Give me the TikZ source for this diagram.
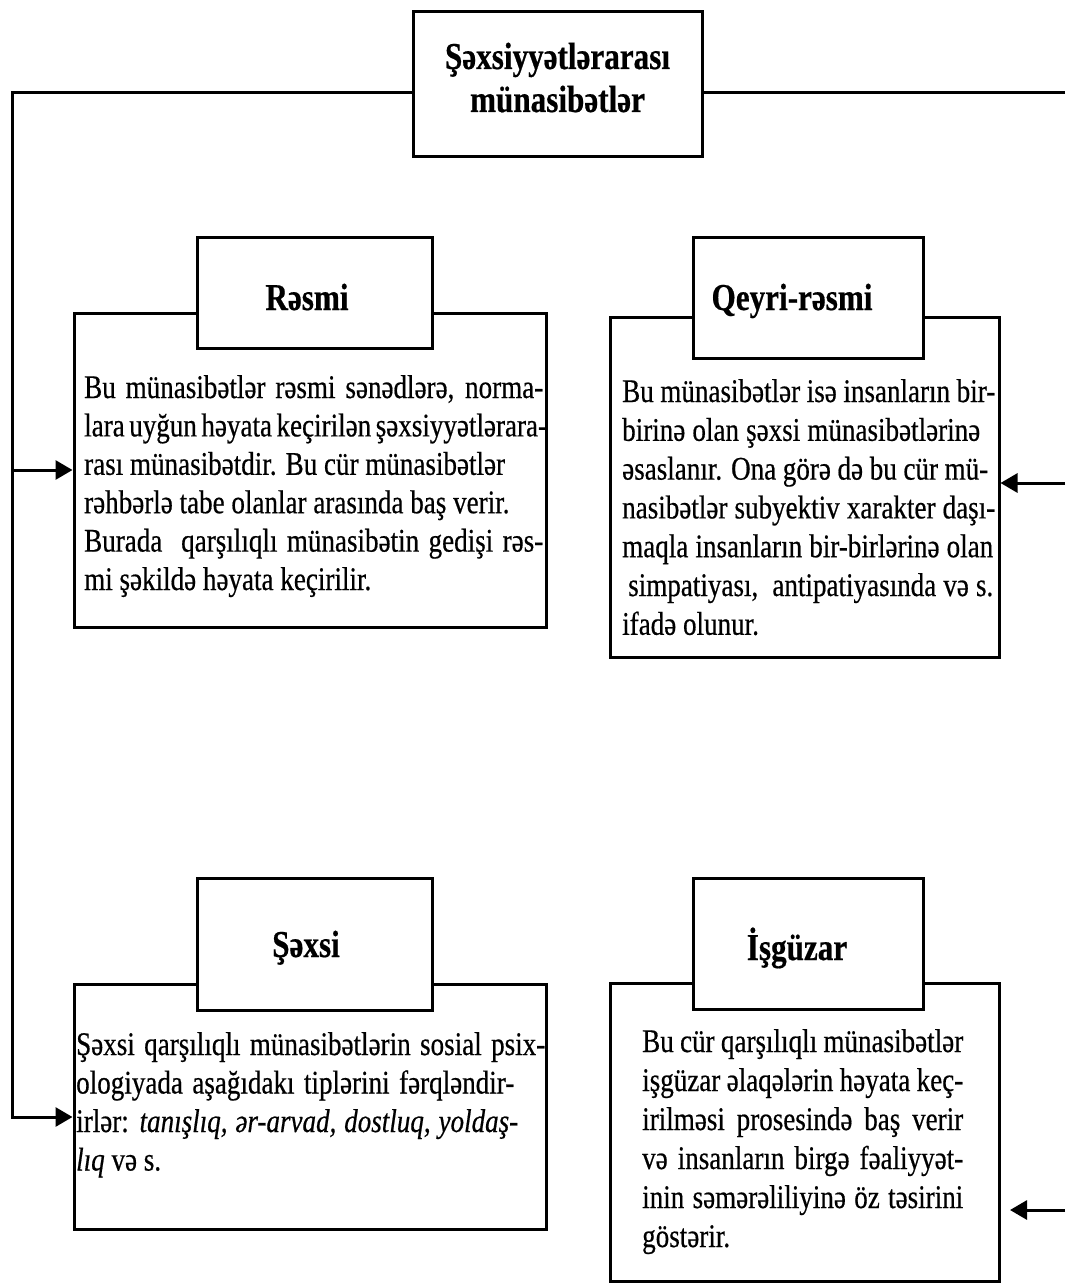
\documentclass[tikz,border=0pt]{standalone}
\usepackage{fontspec}
\setmainfont{Liberation Serif}[FakeStretch=0.82, FakeBold=0.5]
\usetikzlibrary{arrows.meta}
\newcommand\jline[2]{\makebox[#1pt][s]{#2}}
\newcommand\tblock[2]{\vtop{\baselineskip=#1pt\lineskiplimit=-30pt\lineskip=0pt\halign{##\hfil\cr#2\crcr}}}
\tikzset{
  conn/.style={line width=3pt, line join=miter},
  arr/.style={conn, -{Triangle[length=17pt,width=19pt]}},
  boxshape/.style={draw, line width=3pt, rectangle, inner sep=0pt},
  headbox/.style={boxshape, fill=white},
  bodytxt/.style={inner sep=0pt, anchor=base west, font=\fontsize{33}{38}\selectfont},
  headtxt/.style={inner sep=0pt, anchor=base, font=\fontsize{38}{43}\selectfont\bfseries},
}
\begin{document}
\begin{tikzpicture}[x=1pt, y=-1pt]
\useasboundingbox (0,0) rectangle (1065,1284);

% boxes
\node[boxshape, minimum width=289pt, minimum height=145pt] (top) at (557.5,84.5) {};
\node[boxshape, minimum width=472pt, minimum height=314pt] (resmiBody) at (310,470) {};
\node[boxshape, minimum width=389pt, minimum height=340pt] (qrBody) at (804.5,487) {};
\node[boxshape, minimum width=472pt, minimum height=245pt] (sxBody) at (310,1106.5) {};
\node[boxshape, minimum width=389pt, minimum height=298pt] (igBody) at (804.5,1132) {};
\node[headbox, minimum width=235pt, minimum height=111pt] (resmiHead) at (314.5,292.5) {};
\node[headbox, minimum width=230pt, minimum height=121pt] (qrHead) at (808,297.5) {};
\node[headbox, minimum width=235pt, minimum height=132pt] (sxHead) at (314.5,944) {};
\node[headbox, minimum width=230pt, minimum height=131pt] (igHead) at (808,943.5) {};

% connectors
\coordinate (lt) at (12,93);
\coordinate (lm) at (12,470);
\coordinate (lb) at (12,1117);
\coordinate (rt) at (1065,93);
\coordinate (rm) at (1065,483);
\coordinate (rb) at (1065,1210);
\coordinate (rbt) at (1010,1210);
\draw[arr] (top.west |- lt) -- (lt) -- (lb) -- (sxBody.west |- lb);
\draw[arr] (lm) -- (resmiBody.west |- lm);
\draw[conn] (top.east |- rt) -- (rt);
\draw[arr] (rm) -- (qrBody.east |- rm);
\draw[arr] (rb) -- (rbt);

% titles
\node[headtxt] (t1) at (557.5,69) {Şəxsiyyətlərarası};
\node[headtxt] (t2) at (557.5,112) {münasibətlər};
\node[headtxt] (h1) at (307,310) {Rəsmi};
\node[headtxt] (h2) at (792,310) {Qeyri-rəsmi};
\node[headtxt] (h3) at (306,957) {Şəxsi};
\node[headtxt] (h4) at (797,960) {İşgüzar};

% body texts
\node[bodytxt] (b1) at (84,398) {\tblock{38.4}{%
\jline{459}{Bu münasibətlər rəsmi sənədlərə, norma-}\cr
\jline{459}{lara uyğun həyata keçirilən şəxsiyyətlərara-}\cr
rası münasibətdir. Bu cür münasibətlər\cr
rəhbərlə tabe olanlar arasında baş verir.\cr
\jline{459}{Burada\ \ qarşılıqlı münasibətin gedişi rəs-}\cr
mi şəkildə həyata keçirilir.}};

\node[bodytxt] (b2) at (622,402) {\tblock{38.8}{%
\jline{373}{Bu münasibətlər isə insanların bir-}\cr
\jline{358}{birinə olan şəxsi münasibətlərinə}\cr
\jline{366}{əsaslanır. Ona görə də bu cür mü-}\cr
\jline{373}{nasibətlər subyektiv xarakter daşı-}\cr
\jline{371}{maqla insanların bir-birlərinə olan}\cr
\jline{371}{\hspace*{6pt}simpatiyası,\ \ antipatiyasında və s.}\cr
ifadə olunur.}};

\node[bodytxt] (b3) at (76,1055) {\tblock{38.5}{%
\jline{469}{Şəxsi qarşılıqlı münasibətlərin sosial psix-}\cr
\jline{438}{ologiyada aşağıdakı tiplərini fərqləndir-}\cr
\jline{442}{irlər: \textit{tanışlıq, ər-arvad, dostluq, yoldaş-}}\cr
\textit{lıq} və s.}};

\node[bodytxt] (b4) at (642,1052) {\tblock{39}{%
\jline{321}{Bu cür qarşılıqlı münasibətlər}\cr
\jline{321}{işgüzar əlaqələrin həyata keç-}\cr
\jline{321}{irilməsi prosesində baş verir}\cr
\jline{321}{və insanların birgə fəaliyyət-}\cr
\jline{321}{inin səmərəliliyinə öz təsirini}\cr
göstərir.}};
\end{tikzpicture}
\end{document}
